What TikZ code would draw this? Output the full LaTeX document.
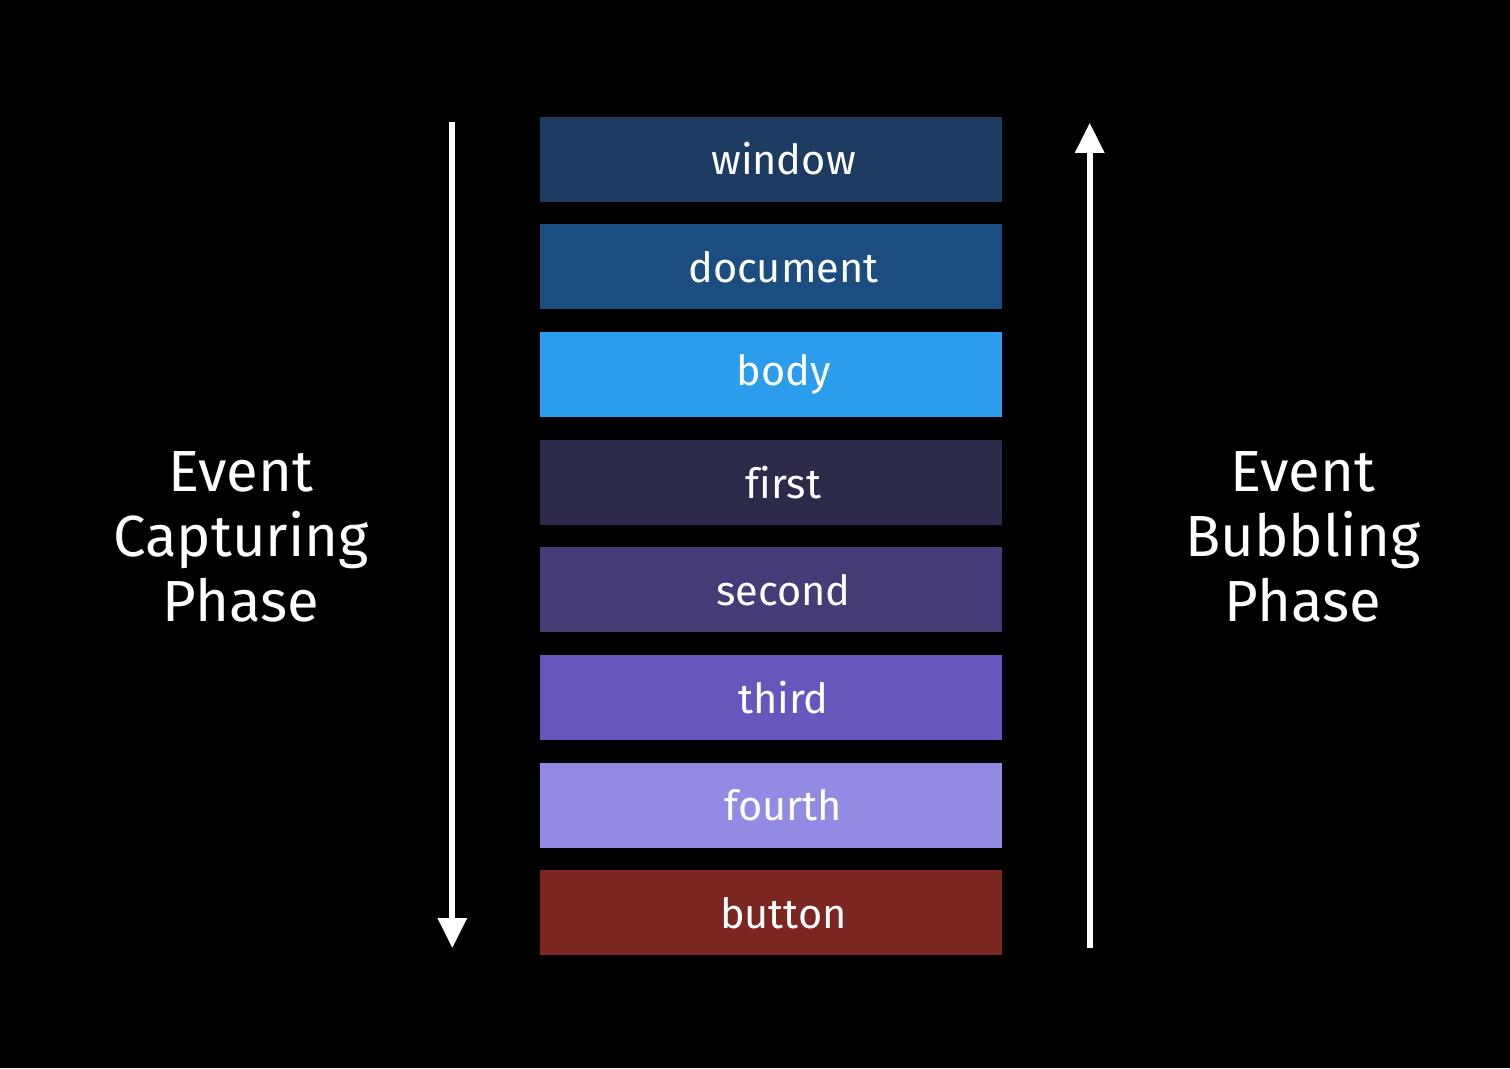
\documentclass[tikz,border=0pt]{standalone}
\usepackage{fontspec}
\setmainfont[Ligatures=NoCommon]{Fira Sans}
\usepackage{tikz}
\usetikzlibrary{arrows.meta, positioning, calc}
\definecolor{cwindow}{HTML}{1D3B61}
\definecolor{cdocument}{HTML}{1C4D80}
\definecolor{cbody}{HTML}{2C9CEC}
\definecolor{cfirst}{HTML}{2C2A49}
\definecolor{csecond}{HTML}{453C77}
\definecolor{cthird}{HTML}{6756BC}
\definecolor{cfourth}{HTML}{938AE4}
\definecolor{cbutton}{HTML}{7B2620}
\tikzstyle{layer} = [rectangle,
minimum width=4.62cm,
minimum height=0.85cm,
inner sep=0pt,
text width=4.62cm,
align=center,
execute at begin node={\hspace*{0.25cm}},
text=white,
font=\fontsize{11.8}{14}\selectfont]
\tikzstyle{phase} = [align=center,
text=white,
font=\fontsize{16.5}{18.5}\selectfont]
\tikzstyle{arrow} = [white, line width=1.7pt, -{Triangle[width=0.28cm, length=0.3cm]}]

\begin{document}
\begin{tikzpicture}[node distance=1.077cm]
            \fill[black] (0,0) rectangle (15.1,-10.68);
            \useasboundingbox (0,0) rectangle (15.1,-10.68);
            \node (win) [layer, fill=cwindow] at (7.71,-1.59) {window};
            \node (doc) [layer, fill=cdocument, below of=win] {document};
            \node (bod) [layer, fill=cbody, below of=doc] {body};
            \node (fst) [layer, fill=cfirst, below of=bod] {first};
            \node (snd) [layer, fill=csecond, below of=fst] {second};
            \node (thd) [layer, fill=cthird, below of=snd] {third};
            \node (fth) [layer, fill=cfourth, below of=thd] {fourth};
            \node (btn) [layer, fill=cbutton, below of=fth] {button};

            \node (cap) [phase] at (2.41,-5.37) {Event\\Capturing\\Phase};
            \node (bub) [phase] at (13.03,-5.37) {Event\\Bubbling\\Phase};

            \coordinate (capTop) at ($(win.north west)+(-0.87,-0.06)$);
            \coordinate (capEnd) at ($(btn.south west)+(-0.87,0.08)$);
            \coordinate (bubTop) at ($(win.north east)+(0.87,-0.07)$);
            \coordinate (bubEnd) at ($(btn.south east)+(0.87,0.08)$);

            \draw [arrow] (capTop) -- (capEnd);
            \draw [arrow] (bubEnd) -- (bubTop);
        \end{tikzpicture}
\end{document}
